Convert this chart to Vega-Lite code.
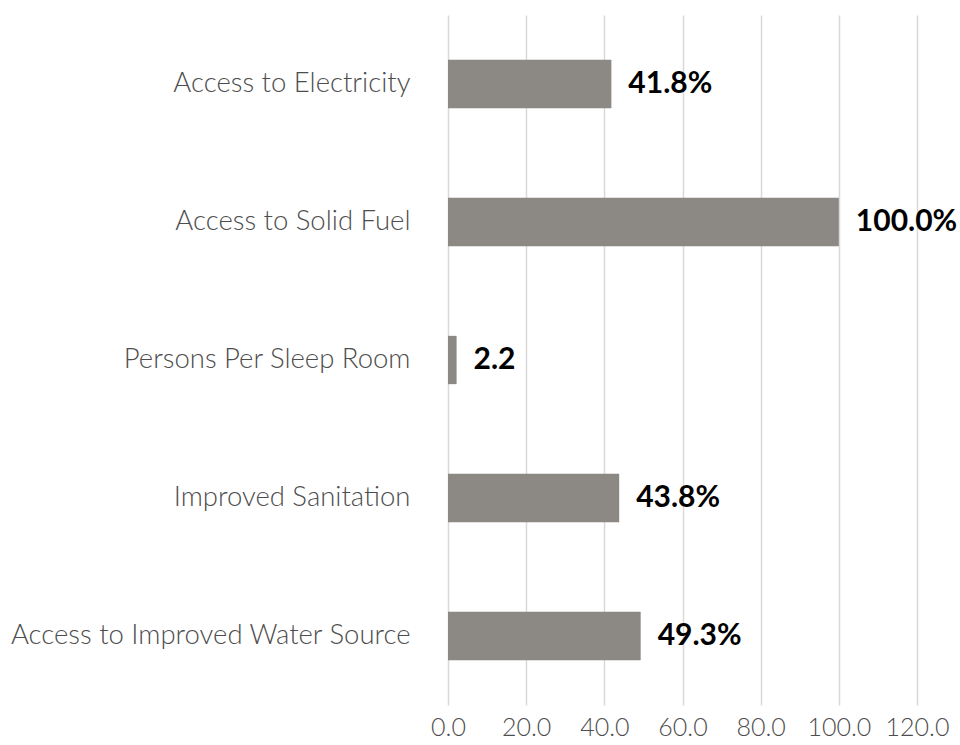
{
  "$schema": "https://vega.github.io/schema/vega-lite/v6.json",
  "autosize": "none",
  "width": 469,
  "height": 690,
  "padding": {"left": 448, "top": 15, "right": 43, "bottom": 40},
  "background": "white",
  "config": {
    "view": {"stroke": null},
    "font": "Lato"
  },
  "data": {
    "values": [
      {"indicator": "Access to Electricity", "value": 41.8, "unit": "%"},
      {"indicator": "Access to Solid Fuel", "value": 100.0, "unit": "%"},
      {"indicator": "Persons Per Sleep Room", "value": 2.2, "unit": ""},
      {"indicator": "Improved Sanitation ", "value": 43.8, "unit": "%"},
      {"indicator": "Access to Improved Water Source", "value": 49.3, "unit": "%"}
    ]
  },
  "transform": [
    {"calculate": "format(datum.value, '.1f') + datum.unit", "as": "label"}
  ],
  "encoding": {
    "y": {
      "field": "indicator",
      "type": "nominal",
      "sort": null,
      "scale": {"paddingInner": 0.65, "paddingOuter": 0.325},
      "axis": {
        "title": null,
        "domain": false,
        "ticks": false,
        "labelPadding": 38,
        "labelFontSize": 27.5,
        "labelFont": "Lato",
        "labelFontWeight": 300,
        "labelColor": "#4d4d4d",
        "labelLimit": 460
      }
    },
    "x": {
      "field": "value",
      "type": "quantitative",
      "scale": {"domain": [0, 120], "nice": false},
      "axis": {
        "title": null,
        "values": [0, 20, 40, 60, 80, 100, 120],
        "format": ".1f",
        "domain": false,
        "ticks": false,
        "grid": true,
        "gridColor": "#d9d9d9",
        "gridWidth": 1.5,
        "labelPadding": 10,
        "labelFontSize": 25,
        "labelFont": "Lato",
        "labelFontWeight": 300,
        "labelColor": "#4d4d4d",
        "labelFlush": false
      }
    }
  },
  "layer": [
    {"mark": {"type": "bar", "color": "#8c8883"}},
    {
      "mark": {
        "type": "text",
        "align": "left",
        "baseline": "middle",
        "dx": 17,
        "fontSize": 30,
        "fontWeight": "bold",
        "color": "#000000",
        "font": "Lato"
      },
      "encoding": {"text": {"field": "label"}}
    }
  ]
}
